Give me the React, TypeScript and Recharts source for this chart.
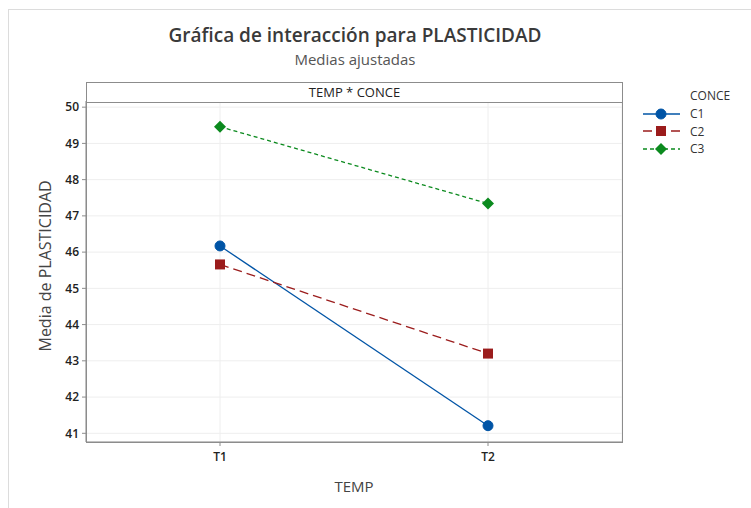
import { CartesianGrid, Line, LineChart, XAxis, YAxis } from "recharts";

const temps = ["T1", "T2"];
const c1 = [46.17, 41.21];
const c2 = [45.66, 43.2];
const c3 = [49.46, 47.34];
const yTicks = [41, 42, 43, 44, 45, 46, 47, 48, 49, 50];

const data = temps.map((t, i) => ({ temp: t, C1: c1[i], C2: c2[i], C3: c3[i] }));

const FONT = "'Open Sans', 'Noto Sans', sans-serif";

const circleDot = (color: string) => (p: any) => (
  <circle key={p.key} cx={p.cx} cy={p.cy} r={5} fill={color} stroke={color} />
);
const squareDot = (color: string) => (p: any) => (
  <rect key={p.key} x={p.cx - 5} y={p.cy - 5} width={10} height={10} fill={color} />
);
const diamondDot = (color: string) => (p: any) => (
  <path
    key={p.key}
    d={`M${p.cx},${p.cy - 6} L${p.cx + 6},${p.cy} L${p.cx},${p.cy + 6} L${p.cx - 6},${p.cy} Z`}
    fill={color}
  />
);

const series = [
  { key: "C1", color: "#0054a6", dash: undefined, dot: circleDot("#0054a6") },
  { key: "C2", color: "#9b1c1c", dash: "9 5", dot: squareDot("#9b1c1c") },
  { key: "C3", color: "#0b8a1e", dash: "4 3", dot: diamondDot("#0b8a1e") },
];

function LegendIcon({ s }: { s: (typeof series)[number] }) {
  const dot = s.dot({ cx: 18, cy: 6, key: "k" });
  return (
    <svg width={38} height={12}>
      <line x1={0} y1={6} x2={37} y2={6} stroke={s.color} strokeWidth={1.3} strokeDasharray={s.dash} />
      {dot}
    </svg>
  );
}

export default function App() {
  return (
    <div style={{ position: "absolute", left: 0, top: 0, width: 751, height: 508, background: "#fff", fontFamily: FONT, overflow: "hidden" }}>
      <div style={{ position: "absolute", left: 8, top: 9, width: 760, height: 520, border: "1px solid #dcdcdc", boxSizing: "border-box" }} />
      <div style={{ position: "absolute", left: 0, width: 710, top: 22, textAlign: "center", fontSize: 19, fontWeight: 600, color: "#3a3a3a" }}>
        Gráfica de interacción para PLASTICIDAD
      </div>
      <div style={{ position: "absolute", left: 0, width: 710, top: 49, textAlign: "center", fontSize: 15, color: "#555" }}>
        Medias ajustadas
      </div>
      <LineChart
        width={751}
        height={508}
        data={data}
        margin={{ top: 101, right: 129, bottom: 36, left: 0 }}
        style={{ position: "absolute", left: 0, top: 0 }}
      >
        <CartesianGrid stroke="#eeeeee" strokeWidth={1} />
        <XAxis
          dataKey="temp"
          scale="band"
          height={30}
          tickSize={4}
          tickMargin={6}
          stroke="#8c8c8c"
          tick={{ fill: "#222", fontSize: 12, fontWeight: 600, fontFamily: FONT }}
          label={{ value: "TEMP", position: "insideBottom", offset: -20, fill: "#444", fontSize: 15, fontFamily: FONT }}
        />
        <YAxis
          width={86}
          domain={[40.76, 50.17]}
          ticks={yTicks}
          allowDataOverflow
          tickSize={4}
          tickMargin={3}
          stroke="#8c8c8c"
          tick={{ fill: "#222", fontSize: 12, fontWeight: 600, fontFamily: FONT }}
          label={{ value: "Media de PLASTICIDAD", angle: -90, position: "insideLeft", offset: 45, dy: 80, fill: "#444", fontSize: 16, fontFamily: FONT }}
        />
        {series.map((s) => (
          <Line
            key={s.key}
            dataKey={s.key}
            stroke={s.color}
            strokeWidth={1.3}
            strokeDasharray={s.dash}
            dot={s.dot}
            activeDot={false}
            isAnimationActive={false}
          />
        ))}
      </LineChart>
      <div style={{ position: "absolute", left: 86, top: 82, width: 537, height: 361, border: "1px solid #8c8c8c", boxSizing: "border-box", pointerEvents: "none" }}>
        <div style={{ height: 19, borderBottom: "1px solid #8c8c8c", textAlign: "center", fontSize: 13, lineHeight: "19px", color: "#222", background: "#fff" }}>
          TEMP * CONCE
        </div>
      </div>
      <div style={{ position: "absolute", left: 643, top: 87, fontSize: 12, color: "#333" }}>
        <div style={{ marginLeft: 47, height: 18 }}>CONCE</div>
        {series.map((s) => (
          <div key={s.key} style={{ display: "flex", alignItems: "center", height: 17.5 }}>
            <LegendIcon s={s} />
            <span style={{ marginLeft: 9 }}>{s.key}</span>
          </div>
        ))}
      </div>
    </div>
  );
}
